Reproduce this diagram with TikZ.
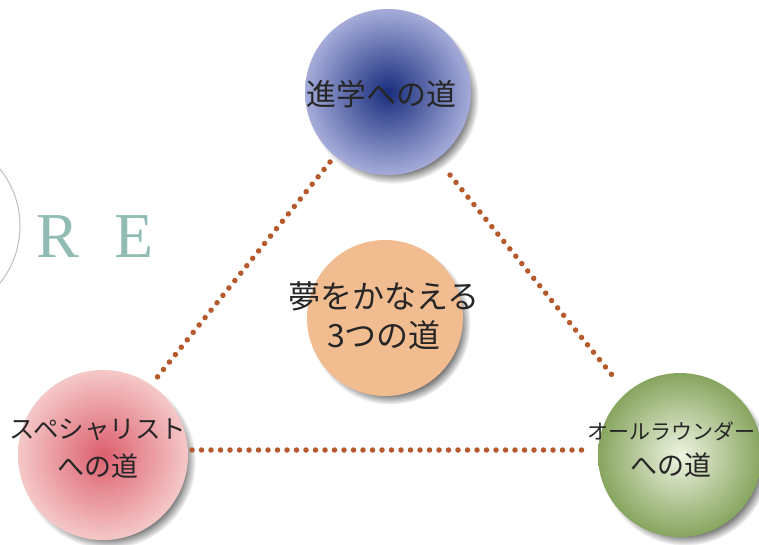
\documentclass[tikz,border=0pt]{standalone}
\usepackage{fontspec}
\newfontfamily\jp{Noto Sans CJK JP}
\setmainfont{Liberation Serif}
\usetikzlibrary{shadows,fadings}
\definecolor{dotc}{RGB}{180,90,45}
\definecolor{bluein}{RGB}{25,45,125}
\definecolor{blueout}{RGB}{165,172,218}
\definecolor{redin}{RGB}{220,95,110}
\definecolor{redout}{RGB}{245,200,200}
\definecolor{greenin}{RGB}{238,244,225}
\definecolor{greenout}{RGB}{135,165,95}
\definecolor{orangec}{RGB}{242,188,145}
\definecolor{tealc}{RGB}{145,188,180}
\tikzset{
  ball/.style={circle, minimum size=#1, inner sep=0pt,
    circular drop shadow={shadow xshift=5pt, shadow yshift=-6pt, fill=black!60, shadow scale=1.03}},
  dotline/.style={draw=dotc, line width=5.5pt, line cap=round, dash pattern=on 0pt off 9.5pt},
  lbl/.style={font=\jp, text=black!85, align=center, inner sep=0pt}
}
\begin{document}
\begin{tikzpicture}[x=1pt,y=-1pt]
\useasboundingbox (0,0) rectangle (759,544);
\fill[white] (0,0) rectangle (759,544);
% emblem fragment
\begin{scope}
\clip (0,0) rectangle (759,544);
\draw[black!25, line width=1pt] (-71,226) circle[radius=91];
\end{scope}
\node[text=tealc, font=\fontsize{64}{64}\selectfont, anchor=base] (R) at (58,257) {R};
\node[text=tealc, font=\fontsize{64}{64}\selectfont, anchor=base] (E) at (134,257) {E};
% circles
\node[ball=166pt, shading=radial, inner color=bluein, outer color=blueout] (top) at (388,92) {};
\node[ball=156pt, fill=orangec] (mid) at (385,318) {};
\node[ball=170pt, shading=radial, inner color=redin, outer color=redout] (left) at (103,455) {};
\node[ball=164pt, shading=radial, inner color=greenin, outer color=greenout] (right) at (680,455) {};
% dotted connectors
\coordinate (a1) at (330,162);
\coordinate (a2) at (155,380);
\coordinate (b1) at (450,175);
\coordinate (b2) at (612,375);
\coordinate (c1) at (192,450);
\coordinate (c2) at (590,450);
\draw[dotline] (a1) -- (a2);
\draw[dotline] (b1) -- (b2);
\draw[dotline] (c1) -- (c2);
% labels
\node[lbl, font=\jp\fontsize{30}{30}\selectfont] (tt) at (381,94) {進学への道};
\node[lbl, font=\jp\fontsize{32}{39}\selectfont] (mt) at (384,316) {夢をかなえる\\3つの道};
\node[lbl, font=\jp\fontsize{25.5}{38}\selectfont] (lt) at (98,449) {スペシャリスト\\{\fontsize{27}{27}\selectfont への道}};
\node[lbl, font=\jp\fontsize{21}{36}\selectfont] (rt) at (671,450) {オールラウンダー\\{\fontsize{27}{27}\selectfont への道}};
\end{tikzpicture}
\end{document}
